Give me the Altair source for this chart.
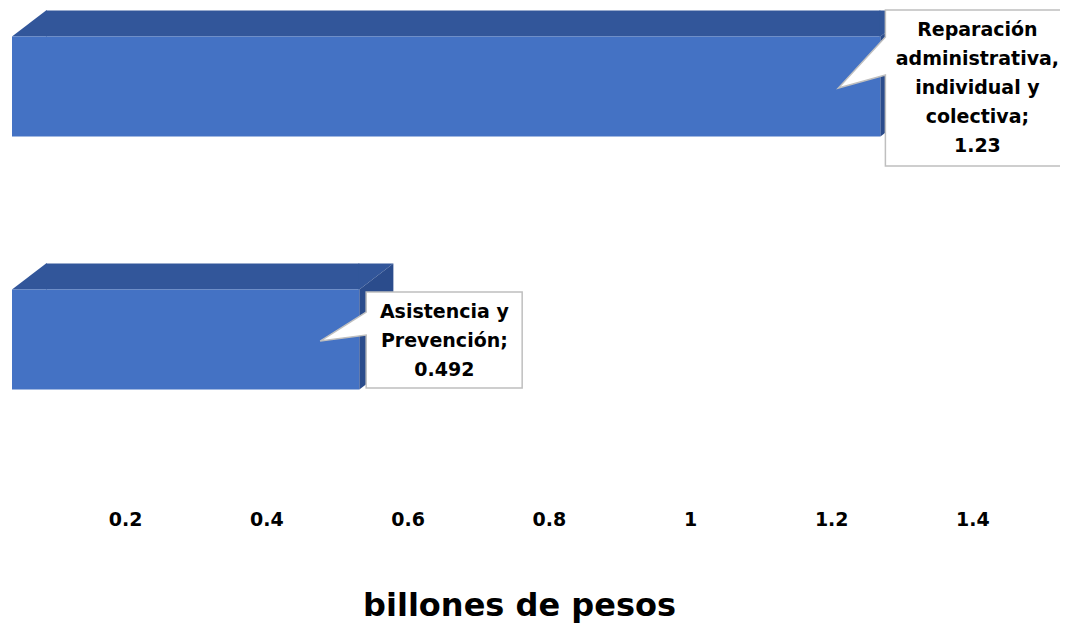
import altair as alt
import pandas as pd

# ---- data ----
categories = ["Reparación administrativa, individual y colectiva", "Asistencia y Prevención"]
values = [1.23, 0.492]
value_labels = ["1.23", "0.492"]
label_lines = [
    ["Reparación", "administrativa,", "individual y", "colectiva;"],
    ["Asistencia y", "Prevención;"],
]
tick_values = [0.2, 0.4, 0.6, 0.8, 1, 1.2, 1.4]
axis_title = "billones de pesos"

df = pd.DataFrame({
    "category": categories,
    "value": values,
    "row": list(range(len(categories))),
    "zero": [0] * len(categories),
    "label": ["\n".join(lines + [v]) for lines, v in zip(label_lines, value_labels)],
})

FRONT = "#4472C4"
TOP = "#32569A"
SIDE = "#2B4C8C"
FONT = "DejaVu Sans"

xscale = alt.Scale(domain=[0, 1.4844], nice=False, zero=False)
yscale = alt.Scale(domain=[-0.31, 1.63], nice=False, zero=False, reverse=True)

X = alt.X("zero:Q", scale=xscale, axis=alt.Axis(
    values=tick_values, format="~g", domain=False, ticks=False, tickSize=0, grid=False,
    labelFont=FONT, labelFontWeight="bold", labelFontSize=19, labelColor="black",
    labelPadding=11, labelOffset=-28,
    title=axis_title, titleFont=FONT, titleFontWeight="bold", titleFontSize=32,
    titleColor="black", titleX=507, titleY=116, titleBaseline="alphabetic",
    titleAlign="center", titleAngle=0))
Y = alt.Y("row:Q", scale=yscale, axis=None)

base = alt.Chart(df)

# top face (middle part)
top_rect = base.mark_rect(color=TOP, xOffset=34, yOffset=-76, y2Offset=-50).encode(
    x=X, x2="value:Q", y=Y, y2="row:Q")
# top face left end
top_left = base.mark_point(shape="M0,-50L34,-76L35,-76L35,-50Z", size=4, filled=True,
                           fill=TOP, strokeWidth=0, opacity=1).encode(
    x=alt.X("zero:Q", scale=xscale), y=Y)
# front face
front = base.mark_rect(color=FRONT, yOffset=-50, y2Offset=50).encode(
    x=alt.X("zero:Q", scale=xscale), x2="value:Q", y=Y, y2="row:Q")
# top face right end
top_right = base.mark_point(shape="M-1,-50L-1,-76L34,-76L0,-50Z", size=4, filled=True,
                            fill=TOP, strokeWidth=0, opacity=1).encode(
    x=alt.X("value:Q", scale=xscale), y=Y)
# side face
side = base.mark_point(shape="M0,-50L34,-76L34,24L0,50Z", size=4, filled=True,
                       fill=SIDE, strokeWidth=0, opacity=1).encode(
    x=alt.X("value:Q", scale=xscale), y=Y)

# callout styles per label (pixel offsets from the bar end)
callout_styles = {
    categories[0]: dict(path="M5,-76.5L200,-76.5L200,79.5L5,79.5L5,-11.5L-42,1.5L5,-49.5Z",
                        dx=97, dy=-56),
    categories[1]: dict(path="M6.8,-47.5L162.8,-47.5L162.8,48.5L6.8,48.5L6.8,-4.5L-39.2,1.5L6.8,-27.5Z",
                        dx=85, dy=-28),
}

layers = [top_rect, top_left, front, top_right, side]
for cat in categories:
    st = callout_styles[cat]
    sub = base.transform_filter(alt.datum.category == cat)
    layers.append(sub.mark_point(shape=st["path"], size=4, filled=True, fill="white",
                                 stroke="#BFBFBF", strokeWidth=1.5, opacity=1).encode(
        x=alt.X("value:Q", scale=xscale), y=Y))
    layers.append(sub.mark_text(font=FONT, fontWeight="bold", fontSize=19, color="black",
                                align="center", baseline="middle", lineBreak="\n",
                                lineHeight=29, dx=st["dx"], dy=st["dy"]).encode(
        x=alt.X("value:Q", scale=xscale), y=Y, text="label:N"))

chart = alt.layer(*layers).properties(
    width=1048, height=491,
    autosize=alt.AutoSizeParams(type="none"),
    padding={"left": 4, "top": 0, "right": 0, "bottom": 127},
    background="white",
).configure_view(stroke=None)

chart.save("out.html", embed_options={"renderer": "svg", "actions": False})
